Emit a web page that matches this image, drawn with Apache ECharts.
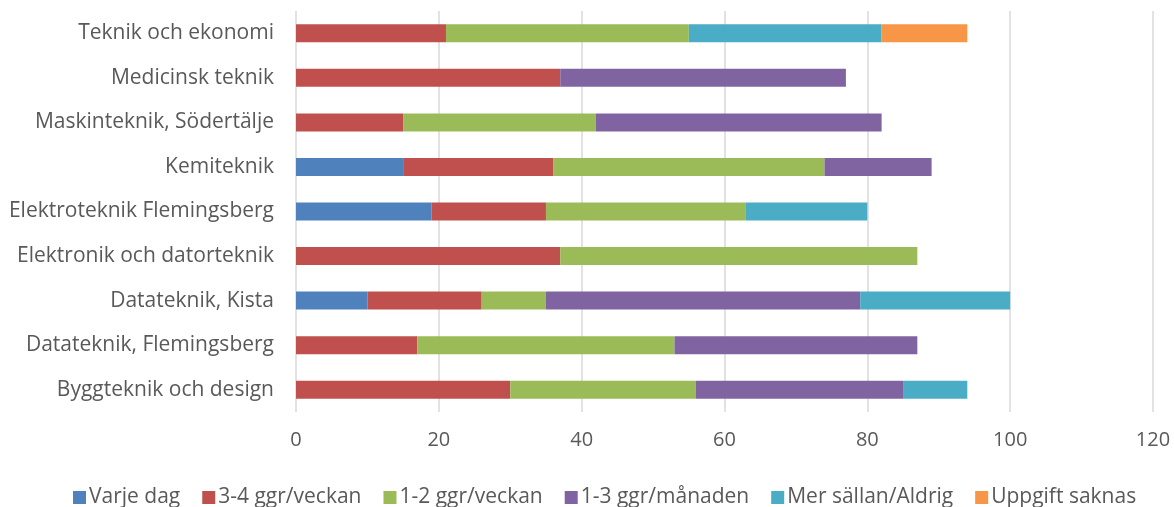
<!DOCTYPE html>
<html>
<head>
<meta charset="utf-8">
<script src="https://cdn.jsdelivr.net/npm/echarts@6/dist/echarts.min.js"></script>
<style>
  html, body { margin: 0; padding: 0; background: #fff; }
  #main { width: 1174px; height: 507px; }
</style>
</head>
<body>
<div id="main"></div>
<script>
// categories bottom to top (as echarts category axis draws them)
var programs = ['Byggteknik och design', 'Datateknik, Flemingsberg', 'Datateknik, Kista',
  'Elektronik och datorteknik', 'Elektroteknik Flemingsberg', 'Kemiteknik',
  'Maskinteknik, Södertälje', 'Medicinsk teknik', 'Teknik och ekonomi'];

var varjeDag    = [0, 0, 10, 0, 19, 15, 0, 0, 0];
var ggr34Veckan = [30, 17, 16, 37, 16, 21, 15, 37, 21];
var ggr12Veckan = [26, 36, 9, 50, 28, 38, 27, 0, 34];
var ggr13Manad  = [29, 34, 44, 0, 0, 15, 40, 40, 0];
var merSallan   = [9, 0, 21, 0, 17, 0, 0, 0, 27];
var saknas      = [0, 0, 0, 0, 0, 0, 0, 0, 12];

var seriesNames = ['Varje dag', '3-4 ggr/veckan', '1-2 ggr/veckan', '1-3 ggr/månaden', 'Mer sällan/Aldrig', 'Uppgift saknas'];
var seriesData = [varjeDag, ggr34Veckan, ggr12Veckan, ggr13Manad, merSallan, saknas];
var colors = ['#4F81BD', '#C0504D', '#9BBB59', '#8064A2', '#4BACC6', '#F79646'];

var font = 'Open Sans';
var chart = echarts.init(document.getElementById('main'));

var series = seriesNames.map(function (name, i) {
  return {
    name: name,
    type: 'bar',
    stack: 'total',
    barWidth: 18,
    itemStyle: { color: colors[i] },
    data: seriesData[i].map(function (v) { return v === 0 ? null : v; })
  };
});

chart.setOption({
  animation: false,
  color: colors,
  grid: { left: 296, right: 21, top: 11, bottom: 95, containLabel: false },
  legend: {
    top: 482,
    left: 68,
    itemWidth: 13,
    itemHeight: 13,
    itemGap: 22,
    icon: 'rect',
    textStyle: { fontFamily: font, fontSize: 21, color: '#595959', padding: [0, 0, 0, -2] },
    data: seriesNames
  },
  xAxis: {
    type: 'value',
    min: 0,
    max: 120,
    interval: 20,
    axisLine: { show: false },
    axisTick: { show: false },
    axisLabel: { fontFamily: font, fontSize: 20, color: '#595959', margin: 18 },
    splitLine: { lineStyle: { color: '#d9d9d9', width: 1.5 } }
  },
  yAxis: {
    type: 'category',
    data: programs,
    axisLine: { show: false },
    axisTick: { show: false },
    axisLabel: { fontFamily: font, fontSize: 21, color: '#595959', margin: 22 }
  },
  series: series
});
</script>
</body>
</html>
